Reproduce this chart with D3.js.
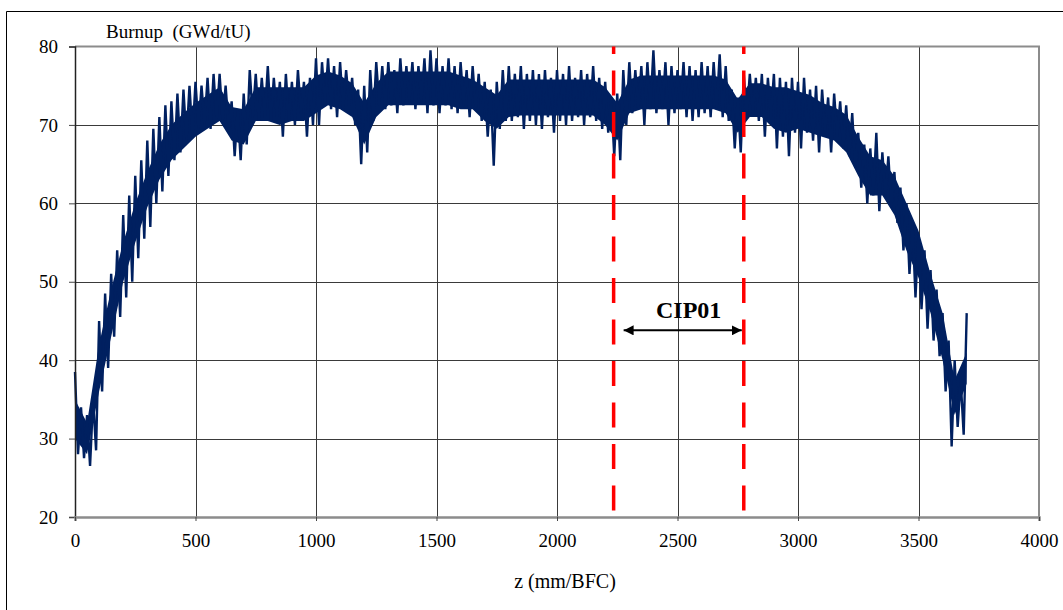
<!DOCTYPE html>
<html>
<head>
<meta charset="utf-8">
<script src="https://cdnjs.cloudflare.com/ajax/libs/d3/7.8.5/d3.min.js"></script>
<style>
  body { margin: 0; background: #fff; }
  text { font-family: "Liberation Serif", "Times New Roman", serif; fill: #000; }
</style>
</head>
<body>
<svg id="chart"></svg>
<script>
'use strict'

const width = 1063,
      height = 610

// burnup profile: one value every 12.5 mm starting at z = 0
// (alternating peaks and troughs of the measured signal)
const zStep = 12.5
const burnup = [
  38.5, 28, 34, 27.5, 33, 26.5, 35, 28.5,        // 0
  45, 36, 48.5, 39, 51, 43, 54, 45.5,            // 100
  58.5, 48, 61, 50, 63.5, 53, 65.5, 55.5,        // 200
  68, 57, 69.5, 60, 71, 61.5, 72.5, 63.5,        // 300
  73, 65.5, 74, 66.5, 74.5, 68, 75, 68.5,        // 400
  75.5, 69.5, 75, 70, 76, 69.5, 76.5, 70.5,      // 500
  76.5, 70.5, 75, 69.5, 73, 66, 72, 65.5,        // 600
  74, 67.5, 77, 71, 76.5, 70.5, 76, 71,          // 700
  77.5, 70.5, 76, 71, 75.5, 68.5, 76.5, 70.5,    // 800
  75.5, 70, 77, 71.5, 75.5, 68.5, 76, 70,        // 900
  78.5, 70, 78, 72.5, 78.5, 72, 77.5, 71,        // 1000
  78, 72, 77, 72.5, 76, 70, 74.5, 65,            // 1100
  75, 66.5, 77, 70.5, 78, 72.5, 77.5, 72,        // 1200
  78, 72.5, 77, 71.5, 78.5, 72.5, 77.5, 73,      // 1300
  78, 72, 77.5, 73, 78.5, 71.5, 79.5, 72.5,      // 1400
  78.5, 71.5, 77.5, 72.5, 78.5, 72, 77.5, 71.5,  // 1500
  78, 72.5, 77, 71, 77.5, 72, 76.5, 70.5,        // 1600
  75.5, 68.5, 74.5, 64.8, 75.5, 69.5, 77, 70.5,  // 1700
  77.5, 70.5, 76.5, 71, 77.5, 69.5, 76.5, 70.5,  // 1800
  77, 70, 76.5, 69.5, 77, 71, 76, 69,            // 1900
  77, 70.5, 76.5, 70, 77.5, 70.5, 76, 71,        // 2000
  77, 70, 76.5, 71, 77.5, 70.5, 76, 69.5,        // 2100
  75.5, 69, 73.5, 66, 74, 65.5, 77, 70,          // 2200
  78, 71.5, 77, 72, 77.5, 70, 78, 72,            // 2300
  79.5, 71.5, 77, 72, 78, 70, 77.5, 71.5,        // 2400
  77, 72, 78, 71, 77.5, 70.5, 77, 71,            // 2500
  78, 71.5, 77.5, 71, 78, 72, 79, 71,            // 2600
  77.5, 70.5, 74.5, 67, 73.5, 66.5, 76.5, 71,    // 2700
  76.5, 71.5, 76, 70.5, 76.5, 68.5, 76, 71,      // 2800
  76.5, 67, 76, 68.5, 75.5, 66, 76, 69,          // 2900
  75.5, 67, 76, 69, 74.5, 68, 75, 66.5,          // 3000
  74.5, 69, 73.5, 66.5, 74, 68.5, 73, 67,        // 3100
  72.5, 66, 71.5, 64.5, 69, 62, 67.5, 60,        // 3200
  67, 61, 69, 59, 66.5, 61, 66, 59.5,            // 3300
  64, 57.5, 62, 54, 60, 51, 57.5, 48,            // 3400
  56, 46.5, 54, 44, 51.5, 42.5, 49, 40.5,        // 3500
  46, 36, 42.5, 29, 40, 31.5, 37.5, 30.5,        // 3600
  46                                             // 3700
]

// dense (solid looking) core of the signal, every 50 mm
const coreStep = 50
const coreHigh = [
  35, 32, 42, 49, 55, 60, 64, 67.5, 70, 71.5,              // 0 - 450
  72.8, 73.8, 74.8, 72.3, 72, 74.8, 74.8, 74.8, 74.8, 74.8, // 500 - 950
  76.3, 76.8, 76.3, 75.3, 72.8, 75.3, 76.8, 76.8, 76.8, 76.8, // 1000 - 1450
  76.8, 76.8, 76.3, 75.8, 74.8, 73.8, 75.8, 75.8, 75.8, 75.8, // 1500 - 1950
  75.8, 75.8, 75.8, 75.8, 74.8, 72.8, 75.8, 76.3, 76.3, 76.3, // 2000 - 2450
  76.3, 76.3, 76.3, 76.3, 75.8, 73.3, 75.3, 75.3, 74.8, 74.8, // 2500 - 2950
  74.3, 73.8, 72.8, 72.3, 71.3, 68.5, 66, 65.5, 63.5, 60,  // 3000 - 3450
  56.5, 51, 46, 37.5, 41                                   // 3500 - 3700
]
const coreLow = [
  30, 28, 36, 43, 50, 55, 59.5, 63, 65.5, 67,              // 0 - 450
  68.5, 69.5, 70.5, 68, 67.5, 70.5, 70.5, 70, 70.5, 70.5,  // 500 - 950
  71.5, 72.5, 72, 71, 67.5, 71, 72.5, 72.5, 72.5, 72.5,    // 1000 - 1450
  72.5, 72.5, 72, 72, 70.5, 69.5, 71, 71.2, 71.2, 71.2,    // 1500 - 1950
  71.2, 71.2, 71.2, 71.2, 70, 68, 71.5, 72, 72, 72,        // 2000 - 2450
  72, 72, 72, 72, 71.5, 69, 71, 71, 69.5, 69,              // 2500 - 2950
  69.5, 69, 68.5, 68, 66.5, 63.5, 61, 61, 58.5, 54,        // 3000 - 3450
  50.5, 46, 40, 33, 37                                     // 3500 - 3700
]

const xTicks = [0, 500, 1000, 1500, 2000, 2500, 3000, 3500, 4000]
const yTicks = [20, 30, 40, 50, 60, 70, 80]
const cipBounds = [2235, 2775]
const cipLabel = 'CIP01'

const margin = { top: 46.5, right: 24, bottom: 93, left: 75 }
const lineColor = '#002060'

const svg = d3.select('#chart')
svg.attr('width', width)
   .attr('height', height)

// outer frame of the figure
svg.append('path')
   .attr('d', `M6.5,${height + 2}V11.5H${width + 2}`)
   .attr('fill', 'none')
   .attr('stroke', '#000')
   .attr('stroke-width', 1)

const x = d3.scaleLinear().domain([0, 4000]).range([margin.left, width - margin.right])
const y = d3.scaleLinear().domain([20, 80]).range([height - margin.bottom, margin.top])

// grid
const grid = svg.append('g').attr('stroke', '#3a3a3a').attr('stroke-width', 1)
grid.selectAll('line.v')
    .data(xTicks.slice(1, -1))
    .enter().append('line')
      .attr('x1', d => Math.round(x(d)) + 0.5).attr('x2', d => Math.round(x(d)) + 0.5)
      .attr('y1', y(80)).attr('y2', y(20))
grid.selectAll('line.h')
    .data(yTicks.slice(1, -1))
    .enter().append('line')
      .attr('x1', x(0)).attr('x2', x(4000))
      .attr('y1', d => Math.round(y(d)) + 0.5).attr('y2', d => Math.round(y(d)) + 0.5)

// plot border (top and right in grey)
svg.append('path')
   .attr('d', `M${x(0)},${y(80)}H${x(4000)}V${y(20)}`)
   .attr('fill', 'none')
   .attr('stroke', '#8c8c8c')
   .attr('stroke-width', 2)

// solid core band
const core = d3.area()
  .x((d, i) => x(i * coreStep))
  .y0((d, i) => y(coreLow[i]))
  .y1(d => y(d))

svg.append('path')
   .datum(coreHigh)
   .attr('d', core)
   .attr('fill', lineColor)

// data line
const line = d3.line()
  .x((d, i) => x(i * zStep))
  .y(d => y(d))

svg.append('path')
   .datum(burnup)
   .attr('d', line)
   .attr('fill', 'none')
   .attr('stroke', lineColor)
   .attr('stroke-width', 2.4)
   .attr('stroke-linejoin', 'miter')

// axes
const yAxis = svg.append('g')
  .attr('transform', `translate(${x(0)},0)`)
  .call(d3.axisLeft(y).tickValues(yTicks).tickSize(6).tickPadding(11).tickFormat(d3.format('d')))
yAxis.select('.domain').attr('stroke', '#222').attr('stroke-width', 1.5)
yAxis.selectAll('.tick line').attr('stroke', '#444')
yAxis.selectAll('text').attr('font-size', 19).attr('font-family', '"Liberation Serif", serif')

const xAxis = svg.append('g')
  .attr('transform', `translate(0,${y(20)})`)
  .call(d3.axisBottom(x).tickValues(xTicks).tickSize(4).tickPadding(12.5).tickFormat(d3.format('d')))
xAxis.select('.domain').attr('stroke', '#8c8c8c').attr('stroke-width', 2.5)
xAxis.selectAll('.tick line').attr('stroke', '#444')
xAxis.selectAll('text').attr('font-size', 19).attr('font-family', '"Liberation Serif", serif')

// axis titles
svg.append('text')
   .attr('x', 106).attr('y', 38)
   .attr('font-size', 19)
   .text('Burnup\u00a0 (GWd/tU)')

svg.append('text')
   .attr('x', 565).attr('y', 588)
   .attr('text-anchor', 'middle')
   .attr('font-size', 20)
   .text('z (mm/BFC)')

// CIP01 segment boundaries
svg.selectAll('line.cip')
   .data(cipBounds)
   .enter().append('line')
     .attr('x1', d => x(d)).attr('x2', d => x(d))
     .attr('y1', y(80)).attr('y2', y(20.75))
     .attr('stroke', '#ff0000')
     .attr('stroke-width', 3.5)
     .attr('stroke-dasharray', '25,16.5')
     .attr('stroke-dashoffset', 17.5)

// double arrow between the boundaries
const defs = svg.append('defs')
defs.append('marker')
    .attr('id', 'head')
    .attr('viewBox', '0 0 10 10')
    .attr('refX', 10).attr('refY', 5)
    .attr('markerWidth', 5).attr('markerHeight', 5)
    .attr('orient', 'auto-start-reverse')
  .append('path')
    .attr('d', 'M0,0L10,5L0,10Z')
    .attr('fill', '#000')

const arrowY = y(43.8)
svg.append('line')
   .attr('x1', x(cipBounds[0]) + 10).attr('x2', x(cipBounds[1]) - 2)
   .attr('y1', arrowY).attr('y2', arrowY)
   .attr('stroke', '#000')
   .attr('stroke-width', 2)
   .attr('marker-start', 'url(#head)')
   .attr('marker-end', 'url(#head)')

svg.append('text')
   .attr('x', (x(cipBounds[0]) + x(cipBounds[1])) / 2 + 10)
   .attr('y', y(45.4))
   .attr('text-anchor', 'middle')
   .attr('font-size', 24)
   .attr('font-weight', 'bold')
   .text(cipLabel)
</script>
</body>
</html>
